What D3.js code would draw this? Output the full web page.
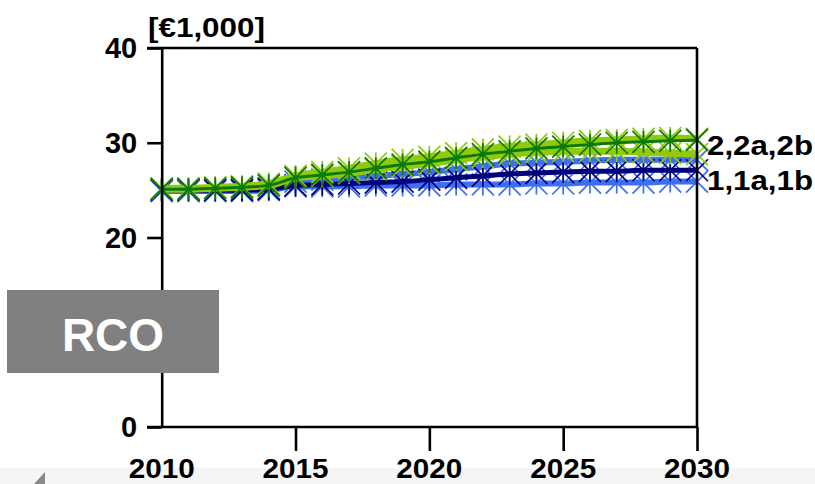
<!DOCTYPE html>
<html><head><meta charset="utf-8">
<script src="https://cdn.jsdelivr.net/npm/d3@7"></script>
<style>
html,body{margin:0;padding:0;background:#fff;}
svg{display:block;font-family:"Liberation Sans",Arial,sans-serif;font-weight:bold;}
</style></head>
<body><svg id="c" width="815" height="484"></svg>
<script>
const years = d3.range(2010, 2031);
const s1  = [25.0,25.0,25.0,25.0,25.1,25.5,25.6,25.7,25.8,25.9,26.1,26.3,26.5,26.7,26.8,26.9,27.0,27.0,27.1,27.1,27.1];
const s1a = [24.9,24.9,24.9,24.9,25.0,25.4,25.4,25.4,25.5,25.5,25.5,25.6,25.6,25.6,25.7,25.7,25.8,25.8,25.8,25.9,25.9];
const s1b = [25.0,25.0,25.0,25.1,25.2,25.9,26.1,26.3,26.5,26.7,26.9,27.2,27.5,27.8,27.9,28.0,28.1,28.2,28.2,28.2,28.2];
const s2  = [25.1,25.1,25.2,25.3,25.5,26.3,26.6,26.9,27.3,27.7,28.0,28.4,28.8,29.1,29.4,29.6,29.8,30.0,30.1,30.2,30.3];
const s2a = [25.2,25.2,25.3,25.4,25.7,26.5,26.9,27.3,27.8,28.2,28.5,28.9,29.3,29.6,29.8,30.0,30.2,30.3,30.4,30.5,30.4];
const s2b = [25.1,25.1,25.2,25.3,25.5,26.3,26.5,26.8,27.2,27.5,27.8,28.2,28.5,28.8,29.0,29.1,29.1,29.1,29.0,28.9,28.8];
const yTicks = [0,10,20,30,40];
const yLabelShown = [0,20,30,40];
const xTicks = [2015,2020,2025,2030];
const xLabels = [2010,2015,2020,2025,2030];
const unitLabel = "[€1,000]";
const groupLabels = ["2,2a,2b","1,1a,1b"];
const boxLabel = "RCO";

const series = [
  {name:"1a", v:s1a, color:"#3d6ff2", w:6},
  {name:"1b", v:s1b, color:"#3d6ff2", w:6},
  {name:"1",  v:s1,  color:"#00007a", w:5},
  {name:"2b", v:s2b, color:"#92c90a", w:7},
  {name:"2a", v:s2a, color:"#92c90a", w:7},
  {name:"2",  v:s2,  color:"#0a7a0a", w:3}
];

const svg = d3.select("#c");
svg.append("rect").attr("x",0).attr("y",468).attr("width",815).attr("height",16).attr("fill","#f5f5f5");
svg.append("path").attr("d","M34,484 L45,472 L45,484 Z").attr("fill","#8a8a8a");

const L=161.7, R=697, T=48, B=427;
const x = d3.scaleLinear().domain([2010,2030]).range([L,R]);
const y = d3.scaleLinear().domain([0,40]).range([B,T]);

const line = d3.line().x((d,i)=>x(years[i])).y(d=>y(d)).curve(d3.curveMonotoneX);

const gS = svg.append("g");
series.forEach(s=>{
  gS.append("path").attr("d",line(s.v)).attr("fill","none")
    .attr("stroke",s.color).attr("stroke-width",s.w).attr("stroke-linejoin","round");
  const m = gS.append("g");
  s.v.forEach((v,i)=>{
    const cx=x(years[i]), cy=y(v), rx=11, ry=11;
    m.append("path").attr("d",`M${cx-rx},${cy-ry}L${cx+rx},${cy+ry}M${cx-rx},${cy+ry}L${cx+rx},${cy-ry}M${cx},${cy-ry}L${cx},${cy+ry}`)
      .attr("stroke",s.color).attr("stroke-width",1.7).attr("fill","none");
  });
});

// frame
const fr = svg.append("g").attr("stroke","#000").attr("stroke-width",2.6).attr("fill","none");
fr.append("line").attr("x1",147).attr("x2",R).attr("y1",T).attr("y2",T);
fr.append("line").attr("x1",R).attr("x2",R).attr("y1",T).attr("y2",B);

// axes
const yAxis = d3.axisLeft(y).tickValues(yTicks).tickSize(14.5).tickSizeOuter(0).tickPadding(10)
  .tickFormat(d=>yLabelShown.includes(d)?d:"");
const gy = svg.append("g").attr("transform",`translate(${L},0)`).call(yAxis);
gy.select(".domain").attr("stroke-width",2.6);
gy.selectAll(".tick line").attr("stroke-width",2.6);
gy.selectAll(".tick text").attr("font-size",29).attr("font-weight","bold").attr("fill","#000")
  .attr("font-family","Liberation Sans, Arial, sans-serif").attr("dy","0.34em");
gy.selectAll(".tick").filter(d=>!yLabelShown.includes(d)).select("text").remove();

const xAxis = d3.axisBottom(x).tickValues(xTicks).tickSize(24).tickSizeOuter(0).tickFormat("");
const gx = svg.append("g").attr("transform",`translate(0,${B})`).call(xAxis);
gx.select(".domain").attr("stroke-width",2.6).attr("d",`M147,0H${R}`);
gx.selectAll(".tick line").attr("stroke-width",2.6);

svg.append("g").selectAll("text").data(xLabels).join("text")
  .attr("x",d=>x(d)).attr("y",478).attr("text-anchor","middle")
  .attr("font-size",28).attr("fill","#000").attr("textLength",66).attr("lengthAdjust","spacingAndGlyphs").text(d=>d);

svg.append("text").attr("x",148).attr("y",37).attr("font-size",28).attr("fill","#000")
  .attr("textLength",117).attr("lengthAdjust","spacingAndGlyphs").text(unitLabel);

svg.append("text").attr("x",707).attr("y",155).attr("font-size",28).attr("fill","#000")
  .attr("textLength",106).attr("lengthAdjust","spacingAndGlyphs").text(groupLabels[0]);
svg.append("text").attr("x",707).attr("y",190).attr("font-size",28).attr("fill","#000")
  .attr("textLength",106).attr("lengthAdjust","spacingAndGlyphs").text(groupLabels[1]);

svg.append("rect").attr("x",7).attr("y",290).attr("width",212).attr("height",83).attr("fill","#808080");
svg.append("text").attr("x",113).attr("y",351).attr("text-anchor","middle").attr("font-size",46)
  .attr("fill","#fff").text(boxLabel);
</script></body></html>
